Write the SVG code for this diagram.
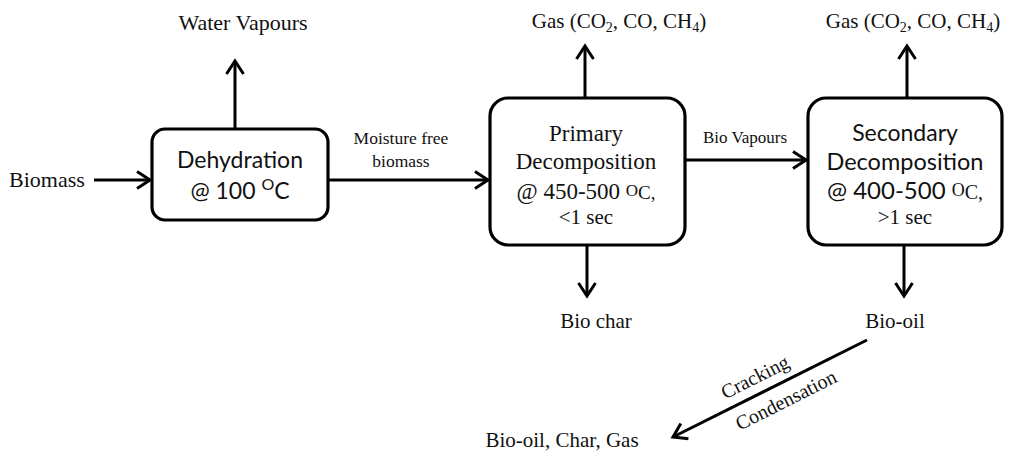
<svg xmlns="http://www.w3.org/2000/svg" width="1035" height="454" viewBox="0 0 1035 454">
<style>
.box{fill:#fff;stroke:#000;stroke-width:3.2}
.ln{stroke:#000;stroke-width:3;fill:none}
.serif{font-family:"Liberation Serif","Times New Roman",serif;fill:#111}
.sans{font-family:Lato,"Liberation Sans",sans-serif;fill:#111}
</style>
<defs>
<marker id="ah" markerWidth="20" markerHeight="20" viewBox="0 0 20 20" refX="15" refY="10" orient="auto" markerUnits="userSpaceOnUse">
<polyline points="2,1.5 15,10 2,18.5" fill="none" stroke="#000" stroke-width="3" stroke-linejoin="miter"/>
</marker>
</defs>
<rect width="1035" height="454" fill="#fff"/>
<g id="connectors">
<line class="ln" x1="94" y1="180" x2="150" y2="180" marker-end="url(#ah)"/>
<line class="ln" x1="235" y1="128" x2="235" y2="61" marker-end="url(#ah)"/>
<line class="ln" x1="328" y1="180" x2="488" y2="180" marker-end="url(#ah)"/>
<line class="ln" x1="585" y1="98" x2="585" y2="46" marker-end="url(#ah)"/>
<line class="ln" x1="685" y1="160" x2="806" y2="160" marker-end="url(#ah)"/>
<line class="ln" x1="907" y1="98" x2="907" y2="46" marker-end="url(#ah)"/>
<line class="ln" x1="587" y1="245" x2="587" y2="296" marker-end="url(#ah)"/>
<line class="ln" x1="904" y1="245" x2="904" y2="296" marker-end="url(#ah)"/>
<line class="ln" x1="867" y1="340" x2="673" y2="437" marker-end="url(#ah)"/>
<text class="serif" font-size="17.5" text-anchor="middle" x="401" y="144">Moisture free</text>
<text class="serif" font-size="17.5" text-anchor="middle" x="401" y="167">biomass</text>
<text class="serif" font-size="17" text-anchor="middle" x="745" y="143">Bio Vapours</text>
<text class="serif" font-size="20" text-anchor="middle" transform="translate(758,383) rotate(-26.7)">Cracking</text>
<text class="serif" font-size="20" text-anchor="middle" transform="translate(789,406) rotate(-26.7)">Condensation</text>
</g>
<g id="biomass"><text class="serif" font-size="22" x="9" y="187">Biomass</text></g>
<g id="water"><text class="serif" font-size="22" text-anchor="middle" x="243" y="30">Water Vapours</text></g>
<g id="dehydration">
<rect class="box" x="152" y="129" width="176" height="91" rx="13"/>
<text class="sans" font-size="23" text-anchor="middle" x="240" y="168">Dehydration</text>
<text class="sans" font-size="23" text-anchor="middle" x="240" y="199">@ 100 <tspan font-size="16" dy="-9">O</tspan><tspan dy="9">C</tspan></text>
</g>
<g id="primary">
<rect class="box" x="490" y="98" width="195" height="147" rx="18"/>
<text class="serif" font-size="23" text-anchor="middle" x="586" y="141">Primary</text>
<text class="serif" font-size="23" text-anchor="middle" x="586" y="169">Decomposition</text>
<text class="serif" font-size="23" text-anchor="middle" x="586" y="199">@ 450-500 <tspan font-size="17" dy="-3">O</tspan><tspan font-size="19" dy="3">C,</tspan></text>
<text class="serif" font-size="21" text-anchor="middle" x="586" y="224">&lt;1 sec</text>
</g>
<g id="secondary">
<rect class="box" x="808" y="98" width="194" height="147" rx="18"/>
<text class="sans" font-size="23" text-anchor="middle" x="905" y="141">Secondary</text>
<text class="sans" font-size="23.5" text-anchor="middle" x="905" y="170">Decomposition</text>
<text class="sans" font-size="24" text-anchor="middle" x="905" y="199">@ 400-500 <tspan class="serif" font-size="18" dy="-3">O</tspan><tspan class="serif" font-size="20" dy="3">C,</tspan></text>
<text class="serif" font-size="21" text-anchor="middle" x="905" y="224">&gt;1 sec</text>
</g>
<g id="gas1"><text class="serif" font-size="21" text-anchor="middle" x="619" y="28">Gas (CO<tspan font-size="14" dy="4">2</tspan><tspan dy="-4">, CO, CH</tspan><tspan font-size="14" dy="4">4</tspan><tspan dy="-4">)</tspan></text></g>
<g id="gas2"><text class="serif" font-size="21" text-anchor="middle" x="913" y="28">Gas (CO<tspan font-size="14" dy="4">2</tspan><tspan dy="-4">, CO, CH</tspan><tspan font-size="14" dy="4">4</tspan><tspan dy="-4">)</tspan></text></g>
<g id="biochar"><text class="serif" font-size="21" text-anchor="middle" x="596" y="328">Bio char</text></g>
<g id="biooil"><text class="serif" font-size="21" text-anchor="middle" x="895" y="328">Bio-oil</text></g>
<g id="products"><text class="serif" font-size="21" text-anchor="middle" x="562" y="447">Bio-oil, Char, Gas</text></g>
</svg>
